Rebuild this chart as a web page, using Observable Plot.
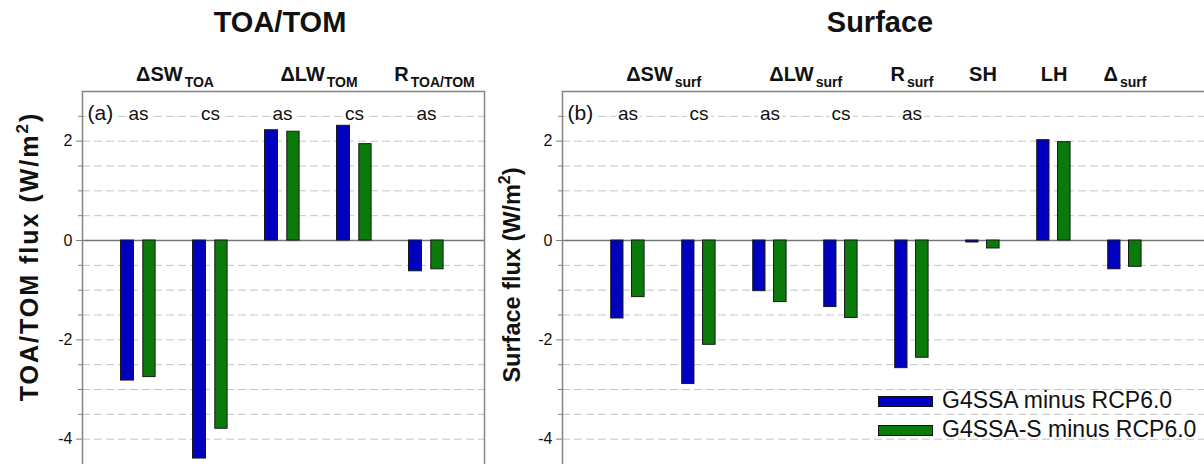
<!DOCTYPE html>
<html><head><meta charset="utf-8">
<script src="https://cdn.jsdelivr.net/npm/d3@7"></script>
<script src="https://cdn.jsdelivr.net/npm/@observablehq/plot@0.6"></script>
<style>
html,body{margin:0;padding:0;background:#fff;overflow:hidden}
#wrap{position:relative;width:1204px;height:464px;overflow:hidden;font-family:"Liberation Sans",Arial,sans-serif;color:#111;background:#fff}
.abs{position:absolute;white-space:nowrap;line-height:1}
.pl{position:absolute;top:0}
.sw{position:absolute;width:55px;height:11px;box-sizing:border-box;border:1px solid #111}
.sup{font-size:0.68em;position:relative;top:-0.6em}
</style></head><body><div id="wrap"></div>
<script>
// ---------- data ----------
const groupsTOA = ["ΔSW as", "ΔSW cs", "ΔLW as", "ΔLW cs", "R as"];
const skyTOA = ["as", "cs", "as", "cs", "as"];
const g4ssaTOA = [-2.82, -4.39, 2.22, 2.31, -0.62];
const g4ssasTOA = [-2.75, -3.79, 2.19, 1.94, -0.58];
const headersTOA = ["ΔSW|TOA", "ΔLW|TOM", "R|TOA/TOM"];
const headerAtTOA = ["ΔSW as", "ΔLW as", "R as"];
const headerSpanTOA = [2, 2, 1];

const groupsSurf = ["ΔSW as", "ΔSW cs", "ΔLW as", "ΔLW cs", "R as", "SH", "LH", "Δ"];
const skySurf = ["as", "cs", "as", "cs", "as", "", "", ""];
const g4ssaSurf = [-1.57, -2.89, -1.02, -1.34, -2.57, -0.04, 2.02, -0.58];
const g4ssasSurf = [-1.14, -2.10, -1.24, -1.56, -2.36, -0.16, 1.98, -0.53];
const headersSurf = ["ΔSW|surf", "ΔLW|surf", "R|surf", "SH", "LH", "Δ|surf"];
const headerAtSurf = ["ΔSW as", "ΔLW as", "R as", "SH", "LH", "Δ"];
const headerSpanSurf = [2, 2, 1, 1, 1, 1];

const seriesNames = ["G4SSA minus RCP6.0", "G4SSA-S minus RCP6.0"];
const seriesColors = ["#0000bf", "#0a7a0a"];
const yMajorTicks = [-4, -2, 0, 2];
const yMinorTicks = [-3.5, -3, -2.5, -1.5, -1, -0.5, 0.5, 1, 1.5, 2.5];
const yGrid = [-4, -3.5, -3, -2.5, -2, -1.5, -1, -0.5, 0.5, 1, 1.5, 2, 2.5];
const yDomain = [-4.55, 3];

const FONT = '"Liberation Sans", Arial, sans-serif';
const wrap = document.getElementById("wrap");

function panel(o) {
  const rows = o.groups.map((g, i) => ({group: g, sky: o.sky[i], a: o.a[i], b: o.b[i]}));
  const n = o.groups.length;
  const step = (o.width - o.ml - o.mr) / (n + 2 * o.po);
  const half = step / 2;
  const hdr = o.headers.map((h, i) => ({text: h, at: o.headerAt[i], span: o.headerSpan[i]}));
  const chart = Plot.plot({
    width: o.width, height: 466,
    marginTop: 91, marginBottom: 0, marginLeft: o.ml, marginRight: o.mr,
    style: {fontFamily: FONT, fontSize: "16px", color: "#000", background: "transparent", overflow: "visible"},
    x: {domain: o.groups, paddingInner: 0, paddingOuter: o.po, align: o.align, axis: null},
    y: {domain: yDomain, label: null},
    marks: [
      Plot.ruleY(yGrid, {stroke: "#c4c4c4", strokeDasharray: "8,4", strokeWidth: 1}),
      Plot.ruleY([0], {stroke: "#777", strokeWidth: 1.5}),
      Plot.barY(rows, {x: "group", y: "a", fill: seriesColors[0], stroke: "#1a1a1a", strokeWidth: 1,
        insetLeft: half - o.blue[0], insetRight: half + o.blue[1]}),
      Plot.barY(rows, {x: "group", y: "b", fill: seriesColors[1], stroke: "#1a1a1a", strokeWidth: 1,
        insetLeft: half + o.green[0], insetRight: half - o.green[1]}),
      Plot.frame({stroke: "#858585", strokeWidth: 1.5}),
      Plot.axisY({ticks: yMinorTicks, tickSize: 4, tickFormat: () => "", stroke: "#858585"}),
      Plot.axisY({ticks: yMajorTicks, tickSize: 6, tickPadding: 4, tickFormat: d => String(d),
        stroke: "#858585", fill: "#111", fontSize: 16}),
      Plot.text(rows.filter(r => r.sky), {x: "group", text: "sky", frameAnchor: "top", dy: 22,
        lineAnchor: "middle", fontSize: 19, fill: "#111", stroke: "white", strokeWidth: 6}),
      Plot.text([o.tag], {text: d => d, frameAnchor: "top-left", textAnchor: "start", dx: 5, dy: 22,
        lineAnchor: "middle", fontSize: 21, fill: "#111", stroke: "white", strokeWidth: 6}),
      Plot.text(hdr.filter(h => h.span === 2), {x: "at", text: "text", frameAnchor: "top", dy: -17.4, dx: half,
        lineAnchor: "middle", fontSize: 20, fontWeight: "bold", fill: "#111"}),
      Plot.text(hdr.filter(h => h.span === 1), {x: "at", text: "text", frameAnchor: "top", dy: -17.4, dx: o.singleDx,
        lineAnchor: "middle", fontSize: 20, fontWeight: "bold", fill: "#111"})
    ]
  });
  chart.querySelectorAll("text").forEach(t => {
    const s = t.textContent;
    if (s.includes("|")) {
      const [m, sub] = s.split("|");
      while (t.firstChild) t.removeChild(t.firstChild);
      const ns = "http://www.w3.org/2000/svg";
      const a = document.createElementNS(ns, "tspan"); a.textContent = m; t.appendChild(a);
      const b = document.createElementNS(ns, "tspan"); b.textContent = sub;
      b.setAttribute("font-size", "14"); b.setAttribute("dy", "7"); b.setAttribute("dx", "2"); t.appendChild(b);
    }
  });
  chart.querySelectorAll("g[stroke='white'], text[stroke='white']").forEach(g => g.style.paintOrder = "stroke");
  chart.classList.add("pl");
  chart.style.left = o.left + "px";
  wrap.appendChild(chart);
}

panel({groups: groupsTOA, sky: skyTOA, a: g4ssaTOA, b: g4ssasTOA, headers: headersTOA,
  headerAt: headerAtTOA, headerSpan: headerSpanTOA, tag: "(a)",
  left: 0, width: 500, ml: 82, mr: 16, po: 0.2535, align: 0.484, singleDx: 8,
  blue: [18, 4], green: [4.3, 17.6]});

panel({groups: groupsSurf, sky: skySurf, a: g4ssaSurf, b: g4ssasSurf, headers: headersSurf,
  headerAt: headerAtSurf, headerSpan: headerSpanSurf, tag: "(b)",
  left: 500, width: 710, ml: 62, mr: 0, po: 0.5355, align: 0.379, singleDx: 0,
  blue: [17, 4.3], green: [3.8, 16.8]});

// ---------- titles, axis labels, legend ----------
function addText(txt, css) {
  const d = document.createElement("div");
  d.className = "abs";
  d.innerHTML = txt;
  Object.assign(d.style, css);
  wrap.appendChild(d);
  return d;
}
addText("TOA/TOM", {left: "130px", width: "300px", textAlign: "center", top: "7.5px", fontSize: "29px", fontWeight: "bold"});
addText("Surface", {left: "730px", width: "300px", textAlign: "center", top: "7.5px", fontSize: "29px", fontWeight: "bold"});
addText('TOA/TOM flux (W/m<span class="sup">2</span>)', {left: (29 - 200) + "px", top: (256 - 12.5) + "px", width: "400px", height: "25px",
  textAlign: "center", fontSize: "25px", fontWeight: "bold", letterSpacing: "2px", transform: "rotate(-90deg)"});
addText('Surface flux (W/m<span class="sup">2</span>)', {left: (513 - 200) + "px", top: (275 - 12) + "px", width: "400px", height: "24px",
  textAlign: "center", fontSize: "23.5px", fontWeight: "bold", transform: "rotate(-90deg)"});

const legTops = [396, 425];
seriesNames.forEach((name, i) => {
  const sw = document.createElement("div");
  sw.className = "sw";
  sw.style.left = "878px"; sw.style.top = legTops[i] + "px"; sw.style.background = seriesColors[i];
  wrap.appendChild(sw);
  addText(name, {left: "942px", top: (legTops[i] + 12 - 19.5) + "px", fontSize: "23px", color: "#111"});
});
</script>
</body></html>
